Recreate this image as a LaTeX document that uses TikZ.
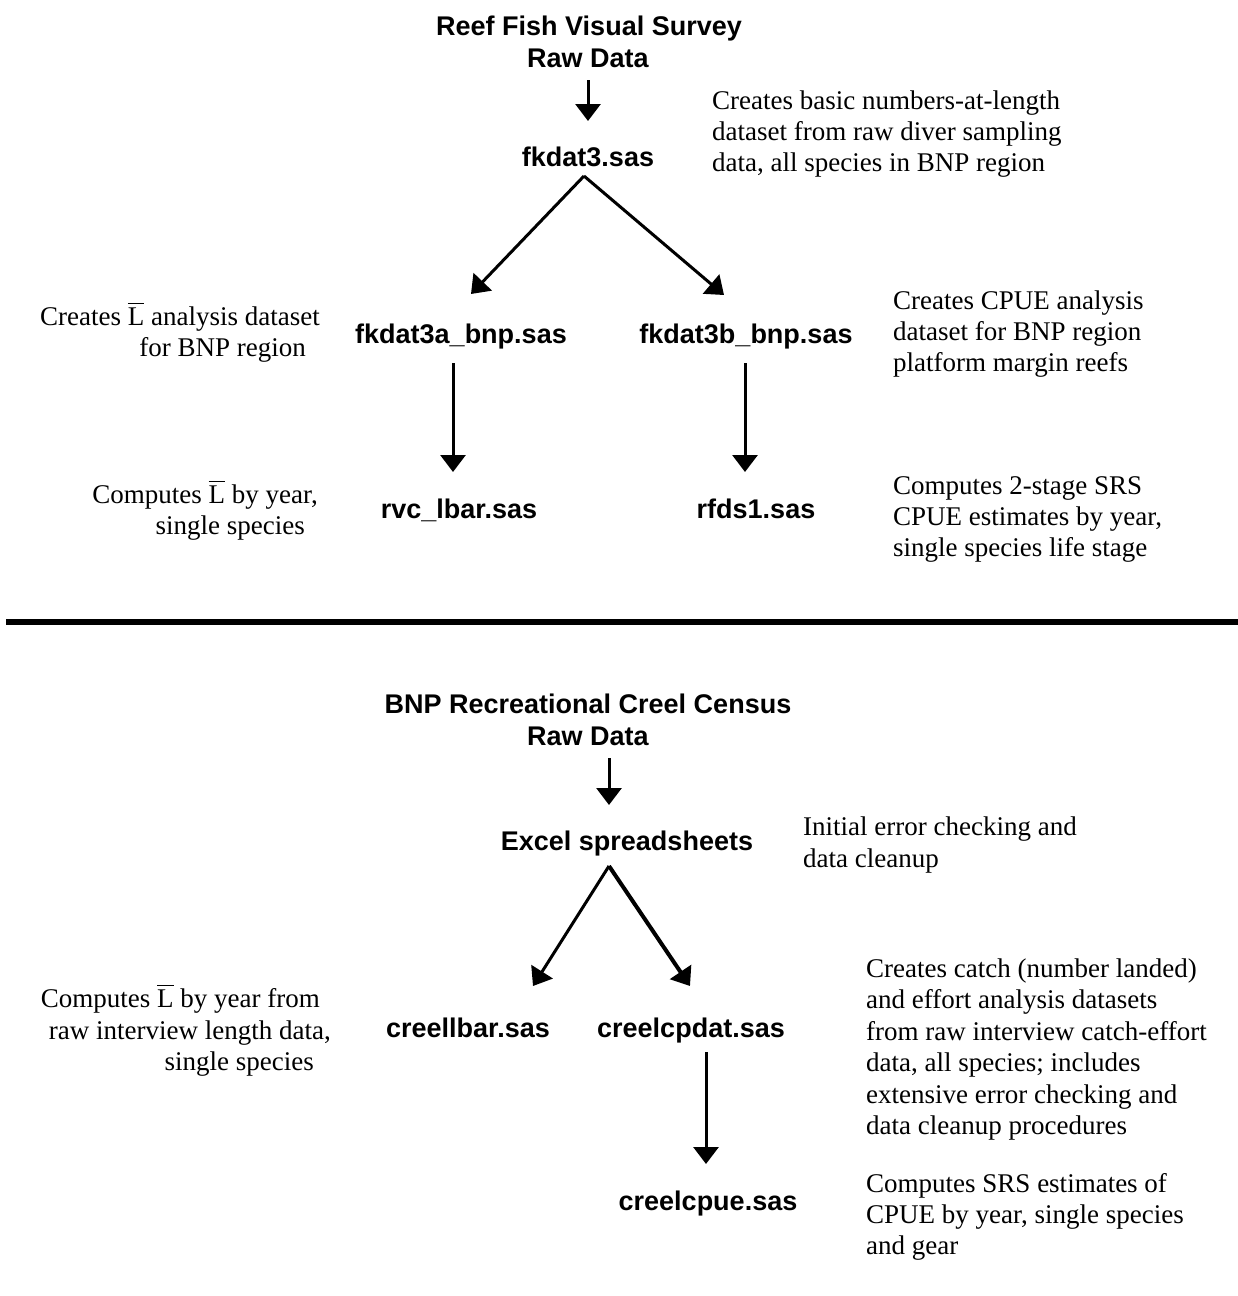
\documentclass[tikz,border=0pt]{standalone}
\usepackage{fontspec}
\setmainfont{Liberation Serif}
\setsansfont{Liberation Sans}
\usetikzlibrary{arrows.meta}
\newcommand{\Lbar}{\leavevmode\vbox{\hrule height 1.8pt\kern 3pt\hbox{L}}}
\tikzset{
  prog/.style={anchor=base, inner sep=0pt, font=\sffamily\bfseries\fontsize{27}{31}\selectfont},
  descl/.style={anchor=base west, inner sep=0pt, font=\fontsize{27}{31}\selectfont},
  descr/.style={anchor=base east, inner sep=0pt, font=\fontsize{27}{31}\selectfont},
  arr/.style={line width=3pt, -{Triangle[length=17pt,width=25pt]}},
  arrb/.style={line width=4pt, -{Triangle[length=17pt,width=25pt]}}
}
\begin{document}
\begin{tikzpicture}[x=1pt,y=-1pt]
\useasboundingbox (0,0) rectangle (1238,1296);
% ---------- top section
\node[prog] (t1) at (589,35) {Reef Fish Visual Survey};
\node[prog] (t2) at (588,67) {Raw Data};
\node[prog] (fk3) at (588,166) {fkdat3.sas};
\node[prog] (fka) at (461,343) {fkdat3a\_bnp.sas};
\node[prog] (fkb) at (746,343) {fkdat3b\_bnp.sas};
\node[prog] (rvc) at (459,518) {rvc\_lbar.sas};
\node[prog] (rfds) at (756,518) {rfds1.sas};

\node[descl] (d1a) at (712,109) {Creates basic numbers-at-length};
\node[descl] (d1b) at (712,140) {dataset from raw diver sampling};
\node[descl] (d1c) at (712,171) {data, all species in BNP region};

\node[descr] (d2a) at (320,325) {Creates \Lbar{} analysis dataset};
\node[descr] (d2b) at (306,356) {for BNP region};

\node[descl] (d3a) at (893,309) {Creates CPUE analysis};
\node[descl] (d3b) at (893,340) {dataset for BNP region};
\node[descl] (d3c) at (893,371) {platform margin reefs};

\node[descr] (d4a) at (318,503) {Computes \Lbar{} by year,};
\node[descr] (d4b) at (305,534) {single species};

\node[descl] (d5a) at (893,494) {Computes 2-stage SRS};
\node[descl] (d5b) at (893,525) {CPUE estimates by year,};
\node[descl] (d5c) at (893,556) {single species life stage};

\coordinate (a1s) at (588,80);  \coordinate (a1e) at (588,121);
\coordinate (dap) at (584,176);
\coordinate (dl) at (471,294);  \coordinate (dr) at (724,295);
\coordinate (a2s) at (453,363); \coordinate (a2e) at (453,472);
\coordinate (a3s) at (745,363); \coordinate (a3e) at (745,472);
\draw[arr] (a1s) -- (a1e);
\draw[arr] (dap) -- (dl);
\draw[arr] (dap) -- (dr);
\draw[arr] (a2s) -- (a2e);
\draw[arr] (a3s) -- (a3e);

% ---------- separator
\coordinate (sepl) at (6,622); \coordinate (sepr) at (1238,622);
\draw[line width=6pt] (sepl) -- (sepr);

% ---------- bottom section
\node[prog] (b1) at (588,713) {BNP Recreational Creel Census};
\node[prog] (b2) at (588,745) {Raw Data};
\node[prog] (xl) at (627,850) {Excel spreadsheets};
\node[prog] (cl) at (468,1037) {creellbar.sas};
\node[prog] (cd) at (691,1037) {creelcpdat.sas};
\node[prog] (cu) at (708,1210) {creelcpue.sas};

\node[descl] (d6a) at (803,835) {Initial error checking and};
\node[descl] (d6b) at (803,867) {data cleanup};

\node[descr] (d7a) at (320,1007) {Computes \Lbar{} by year from};
\node[descr] (d7b) at (331,1039) {raw interview length data,};
\node[descr] (d7c) at (314,1070) {single species};

\node[descl] (d8a) at (866,977) {Creates catch (number landed)};
\node[descl] (d8b) at (866,1008) {and effort analysis datasets};
\node[descl] (d8c) at (866,1040) {from raw interview catch-effort};
\node[descl] (d8d) at (866,1071) {data, all species; includes};
\node[descl] (d8e) at (866,1103) {extensive error checking and};
\node[descl] (d8f) at (866,1134) {data cleanup procedures};

\node[descl] (d9a) at (866,1192) {Computes SRS estimates of};
\node[descl] (d9b) at (866,1223) {CPUE by year, single species};
\node[descl] (d9c) at (866,1254) {and gear};

\coordinate (a4s) at (609,758);  \coordinate (a4e) at (609,805);
\coordinate (bap) at (609,866);
\coordinate (bl) at (533,986);  \coordinate (br) at (690,986);
\coordinate (a5s) at (706,1052); \coordinate (a5e) at (706,1164);
\draw[arr] (a4s) -- (a4e);
\draw[arr] (bap) -- (bl);
\draw[arrb] (bap) -- (br);
\draw[arr] (a5s) -- (a5e);
\end{tikzpicture}
\end{document}
